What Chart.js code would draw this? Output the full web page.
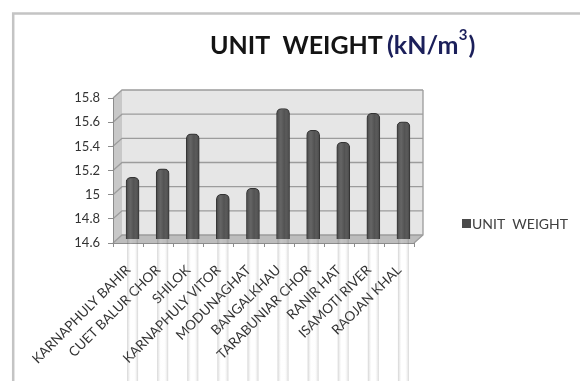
<!DOCTYPE html>
<html>
<head>
<meta charset="utf-8">
<script src="https://cdn.jsdelivr.net/npm/chart.js@4/dist/chart.umd.min.js"></script>
<style>
  html, body { margin: 0; padding: 0; background: #ffffff; }
  #wrap { width: 580px; height: 381px; position: relative; }
</style>
</head>
<body>
<div id="wrap"><canvas id="c" width="580" height="381"></canvas></div>
<script>
// Sites sampled
const categories = [
  'KARNAPHULY BAHIR', 'CUET BALUR CHOR', 'SHILOK', 'KARNAPHULY VITOR',
  'MODUNAGHAT', 'BANGALKHAU', 'TARABUNIAR CHOR', 'RANIR HAT',
  'ISAMOTI RIVER', 'RAOJAN KHAL'
];
// Unit weight, kN/m3
const unitWeight = [15.11, 15.18, 15.47, 14.97, 15.02, 15.68, 15.50, 15.40, 15.64, 15.57];
// Value axis tick values and their printed labels
const yTickValues = [14.6, 14.8, 15.0, 15.2, 15.4, 15.6, 15.8];
const yTickLabels = ['14.6', '14.8', '15', '15.2', '15.4', '15.6', '15.8'];
const seriesName = 'UNIT  WEIGHT';
const titleMain = 'UNIT  WEIGHT';

const FONT = 'Lato, "Liberation Sans", sans-serif';
const DEPTH_X = 9, DEPTH_Y = -8;   // back-wall offset of the 3-D box

// Outer frame, walls, floor, gridlines, title and legend
const boxPlugin = {
  id: 'box3d',
  beforeDraw(chart) {
    const ctx = chart.ctx;
    const a = chart.chartArea;
    const ys = chart.scales.y;
    ctx.save();
    // outer frame (top and left edges)
    ctx.strokeStyle = '#c4c4c4';
    ctx.lineWidth = 2.5;
    ctx.beginPath();
    ctx.moveTo(13.2, 381);
    ctx.lineTo(13.2, 13.5);
    ctx.lineTo(580, 13.5);
    ctx.stroke();

    const L = a.left, R = a.right, T = a.top, B = a.bottom;
    // back wall
    ctx.fillStyle = '#e6e6e6';
    ctx.fillRect(L + DEPTH_X, T + DEPTH_Y, R - L, B - T);
    // side wall
    ctx.fillStyle = '#c8c8c8';
    ctx.beginPath();
    ctx.moveTo(L, T); ctx.lineTo(L + DEPTH_X, T + DEPTH_Y);
    ctx.lineTo(L + DEPTH_X, B + DEPTH_Y); ctx.lineTo(L, B);
    ctx.closePath(); ctx.fill();
    // floor
    ctx.fillStyle = '#bdbdbd';
    ctx.beginPath();
    ctx.moveTo(L, B); ctx.lineTo(L + DEPTH_X, B + DEPTH_Y);
    ctx.lineTo(R + DEPTH_X, B + DEPTH_Y); ctx.lineTo(R, B);
    ctx.closePath(); ctx.fill();

    // gridlines on back and side walls
    ctx.strokeStyle = '#9c9c9c';
    ctx.lineWidth = 1.3;
    yTickValues.forEach(v => {
      const y = ys.getPixelForValue(v);
      ctx.beginPath();
      ctx.moveTo(L, y);
      ctx.lineTo(L + DEPTH_X, y + DEPTH_Y);
      ctx.lineTo(R + DEPTH_X, y + DEPTH_Y);
      ctx.stroke();
    });
    // right edge of back wall and floor
    ctx.beginPath();
    ctx.moveTo(R + DEPTH_X, T + DEPTH_Y);
    ctx.lineTo(R + DEPTH_X, B + DEPTH_Y);
    ctx.lineTo(R, B);
    ctx.stroke();
    ctx.restore();
  },
  beforeDatasetsDraw(chart) {
    chart.ctx.save();
    chart.ctx.translate(DEPTH_X / 2, DEPTH_Y / 2);
  },
  afterDatasetsDraw(chart) {
    const ctx = chart.ctx;
    // cylinder shading across each bar
    chart.getDatasetMeta(0).data.forEach(el => {
      const w = el.width, x0 = el.x - w / 2;
      const g = ctx.createLinearGradient(x0, 0, x0 + w, 0);
      g.addColorStop(0, 'rgba(0,0,0,0.25)');
      g.addColorStop(0.35, 'rgba(255,255,255,0.10)');
      g.addColorStop(0.6, 'rgba(255,255,255,0.0)');
      g.addColorStop(1, 'rgba(0,0,0,0.25)');
      ctx.fillStyle = g;
      ctx.beginPath();
      ctx.roundRect(x0 + 1, el.y + 1, w - 2, el.base - el.y - 2, [4, 4, 2, 2]);
      ctx.fill();
    });
    ctx.restore();
  },
  afterDraw(chart) {
    const ctx = chart.ctx;
    const a = chart.chartArea;
    const xs = chart.scales.x;
    ctx.save();
    // category tick marks under the floor
    ctx.strokeStyle = '#8c8c8c';
    ctx.lineWidth = 1;
    const n = categories.length;
    const step = n > 1 ? xs.getPixelForValue(1) - xs.getPixelForValue(0) : (a.right - a.left);
    for (let i = 0; i <= n; i++) {
      const x = Math.round(xs.getPixelForValue(0) - step / 2 + i * step) + 0.5;
      ctx.beginPath();
      ctx.moveTo(x, a.bottom);
      ctx.lineTo(x, a.bottom + 4);
      ctx.stroke();
    }

    // title
    ctx.textBaseline = 'alphabetic';
    ctx.textAlign = 'left';
    ctx.fillStyle = '#141414';
    ctx.font = 'bold 25px ' + FONT;
    ctx.fillText(titleMain, 210, 54);
    ctx.fillStyle = '#1b1f5a';
    let x = 387;
    ctx.fillText('(kN/m', x, 54);
    x += ctx.measureText('(kN/m').width;
    ctx.font = 'bold 15px ' + FONT;
    ctx.fillText('3', x + 0.5, 40);
    x += ctx.measureText('3').width + 1.5;
    ctx.font = 'bold 25px ' + FONT;
    ctx.fillText(')', x, 54);

    // legend
    const ds = chart.data.datasets[0];
    ctx.fillStyle = '#4a4a4a';
    ctx.fillRect(462, 219, 9, 9);
    ctx.fillStyle = '#404040';
    ctx.font = '14px ' + FONT;
    ctx.textBaseline = 'middle';
    ctx.fillText(ds.label, 472, 224);
    ctx.restore();
  }
};

new Chart(document.getElementById('c'), {
  type: 'bar',
  data: {
    labels: categories,
    datasets: [{
      label: seriesName,
      data: unitWeight,
      backgroundColor: '#525252',
      borderColor: '#333333',
      borderWidth: 1,
      borderSkipped: false,
      borderRadius: { topLeft: 5, topRight: 5, bottomLeft: 2, bottomRight: 2 },
      barThickness: 13
    }]
  },
  options: {
    responsive: false,
    animation: false,
    devicePixelRatio: 1,
    layout: { padding: { left: 0, top: 98, right: 166, bottom: 0 } },
    plugins: {
      legend: { display: false },
      title: { display: false },
      tooltip: { enabled: false }
    },
    scales: {
      x: {
        grid: { display: false },
        border: { display: true, color: '#8c8c8c', width: 1 },
        ticks: {
          autoSkip: false, minRotation: 45, maxRotation: 45,
          color: '#333333', font: { family: FONT, size: 13.5 }, padding: 11
        },
        afterFit(scale) { scale.height = 138; }
      },
      y: {
        min: 14.6, max: 15.8,
        afterBuildTicks(scale) { scale.ticks = yTickValues.map(v => ({ value: v })); },
        grid: { display: true, drawOnChartArea: false, drawTicks: true, tickLength: 5, color: '#8c8c8c' },
        border: { display: true, color: '#8c8c8c', width: 1 },
        ticks: {
          color: '#333333', font: { family: FONT, size: 13 }, padding: 8,
          callback(value) {
            const i = yTickValues.findIndex(v => Math.abs(v - value) < 1e-6);
            return i >= 0 ? yTickLabels[i] : '';
          }
        },
        afterFit(scale) { scale.width = 113; }
      }
    }
  },
  plugins: [boxPlugin]
});
</script>
</body>
</html>
